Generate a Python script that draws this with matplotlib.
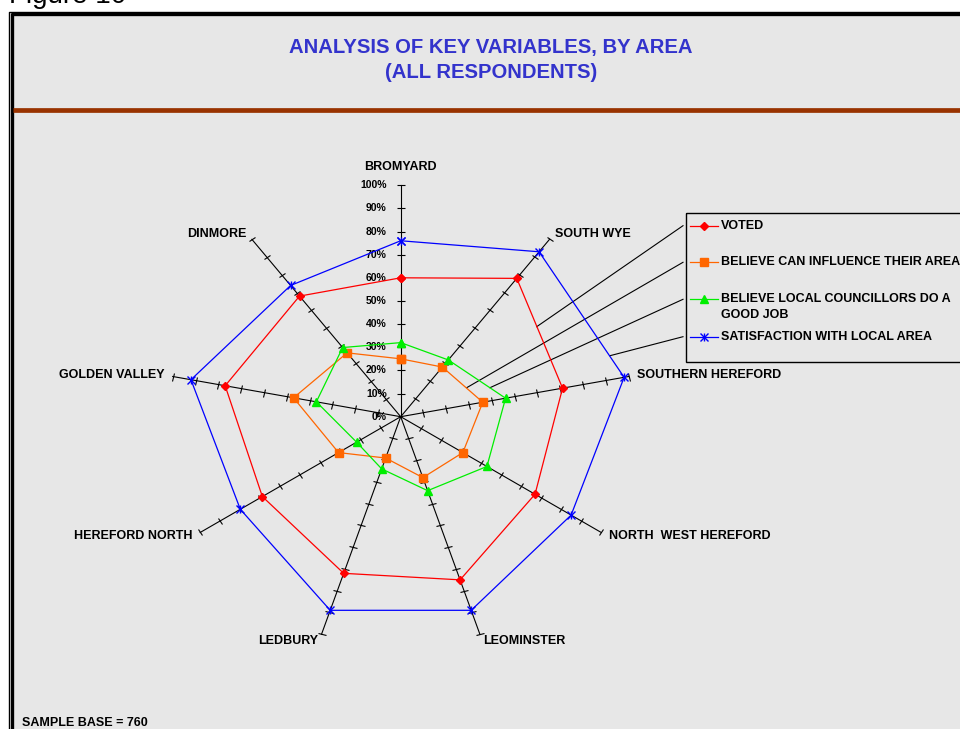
import numpy as np
import matplotlib
matplotlib.use("Agg")
import matplotlib.pyplot as plt
from matplotlib.markers import MarkerStyle
from matplotlib.transforms import Affine2D
from matplotlib.patches import Rectangle

plt.rcParams["font.family"] = ["Liberation Sans", "DejaVu Sans"]

# Areas, clockwise from the top
areas = ["BROMYARD", "SOUTH WYE", "SOUTHERN HEREFORD", "NORTH  WEST HEREFORD",
         "LEOMINSTER", "LEDBURY", "HEREFORD NORTH", "GOLDEN VALLEY", "DINMORE"]

# Percentages
voted = [60, 78, 71, 67, 75, 72, 69, 77, 68]
influence = [25, 28, 36, 31, 28, 19, 31, 47, 36]
councillors = [32, 32, 46, 43, 34, 24, 22, 37, 39]
satisfaction = [76, 93, 98, 85, 89, 89, 80, 92, 74]

series_names = ["VOTED", "BELIEVE CAN INFLUENCE THEIR AREA",
                "BELIEVE LOCAL COUNCILLORS DO A\nGOOD JOB", "SATISFACTION WITH LOCAL AREA"]
scale_ticks = [0, 10, 20, 30, 40, 50, 60, 70, 80, 90, 100]

W, H = 960, 729
fig = plt.figure(figsize=(W / 100, H / 100), dpi=100, facecolor="white")

# --- decoration layer in pixel coordinates ---
deco = fig.add_axes([0, 0, 1, 1], zorder=0)
deco.set_xlim(0, W)
deco.set_ylim(H, 0)
deco.axis("off")
deco.add_patch(Rectangle((12, 14), 1000, 1000, facecolor="#e7e7e7", edgecolor="none"))
deco.plot([8.5, 8.5, 1000], [1000, 11.5, 11.5], color="black", lw=1.0)
deco.plot([11.5, 11.5, 1000], [1000, 14.2, 14.2], color="black", lw=2.4)
deco.plot([13, 1000], [110, 110], color="#993300", lw=3.4, solid_capstyle="butt")

fig.text(9 / W, 1 - 3 / H, "Figure 10", fontsize=20, va="baseline", ha="left")
fig.text(491 / W, 1 - 48 / H, "ANALYSIS OF KEY VARIABLES, BY AREA", color="#3333cc",
         fontsize=14.6, fontweight="bold", ha="center", va="center")
fig.text(491 / W, 1 - 73 / H, "(ALL RESPONDENTS)", color="#3333cc",
         fontsize=14.6, fontweight="bold", ha="center", va="center")
fig.text(22 / W, 1 - 723 / H, "SAMPLE BASE = 760", fontsize=9, fontweight="bold",
         ha="left", va="center")

# --- radar ---
cx, cy, rad = 400.7, 416.7, 231.5
ax = fig.add_axes([(cx - rad) / W, 1 - (cy + rad) / H, 2 * rad / W, 2 * rad / H],
                  projection="polar", zorder=1)
ax.set_theta_zero_location("N")
ax.set_theta_direction(-1)
ax.set_ylim(0, 100)
ax.patch.set_alpha(0)
ax.spines["polar"].set_visible(False)
ax.grid(False)
ax.set_xticks([])
ax.set_yticks([])

n = len(areas)
angles = np.arange(n) * 2 * np.pi / n
deg = np.degrees(angles)

for a, d, name in zip(angles, deg, areas):
    ax.plot([a, a], [0, 100], color="black", lw=0.8, clip_on=False, zorder=2)
    tick = MarkerStyle("_", transform=Affine2D().rotate_deg(-d))
    ax.plot([a] * 10, scale_ticks[1:], ls="none", marker=tick, ms=5.5,
            mec="black", mew=0.8, clip_on=False, zorder=2)
    s, c = np.sin(a), np.cos(a)
    if abs(s) < 1e-6:
        off, ha = (0, 18), "center"
    else:
        off, ha = (8.5 * s, 7 * c), ("left" if s > 0 else "right")
    ax.annotate(name, xy=(a, 100), xytext=off, textcoords="offset pixels",
                ha=ha, va="center", fontsize=9, fontweight="bold",
                annotation_clip=False)

for t in scale_ticks:
    ax.annotate(f"{t}%", xy=(0, t), xytext=(-14, 0), textcoords="offset pixels",
                ha="right", va="center", fontsize=7.5, fontweight="bold",
                annotation_clip=False)

closed = np.append(angles, angles[0])
styles = [
    (voted, "#ff0000", "D", 4.5, None),
    (influence, "#ff6600", "s", 6, None),
    (councillors, "#00ee00", "^", 6, None),
    (satisfaction, "#0000ff", "x", 5.5, "|"),
]
for vals, col, mk, ms, extra in styles:
    v = np.append(vals, vals[0])
    ax.plot(closed, v, color=col, lw=0.9, marker=mk, ms=ms, mfc=col, mec=col,
            mew=1.0, clip_on=False, zorder=3)
    if extra:
        ax.plot(angles, vals, ls="none", marker=extra, ms=ms, mec=col, mew=1.0,
                clip_on=False, zorder=3)

# --- legend box with leader lines ---
deco.add_patch(Rectangle((686, 213), 400, 149, facecolor="none", edgecolor="black", lw=1.0))
entry_y = [225.7, 262.3, 299.3, 336.7]
leader_end = [(536.7, 326.7), (466.7, 387.7), (490, 387.7), (610, 355.7)]
for (vals, col, mk, ms, extra), name, y, end in zip(styles, series_names, entry_y, leader_end):
    deco.plot([690, 718], [y, y], color=col, lw=0.9)
    deco.plot([704], [y], marker=mk, ms=ms, color=col, mfc=col, mec=col, mew=1.0)
    if extra:
        deco.plot([704], [y], marker=extra, ms=ms, mec=col, mew=1.0)
    deco.text(721, y, name.split("\n")[0], fontsize=9, fontweight="bold",
              ha="left", va="center")
    if "\n" in name:
        deco.text(721, y + 16, name.split("\n")[1], fontsize=9, fontweight="bold",
                  ha="left", va="center")
    deco.plot([683, end[0]], [y, end[1]], color="black", lw=0.8)

fig.savefig("out.png", dpi=100)
